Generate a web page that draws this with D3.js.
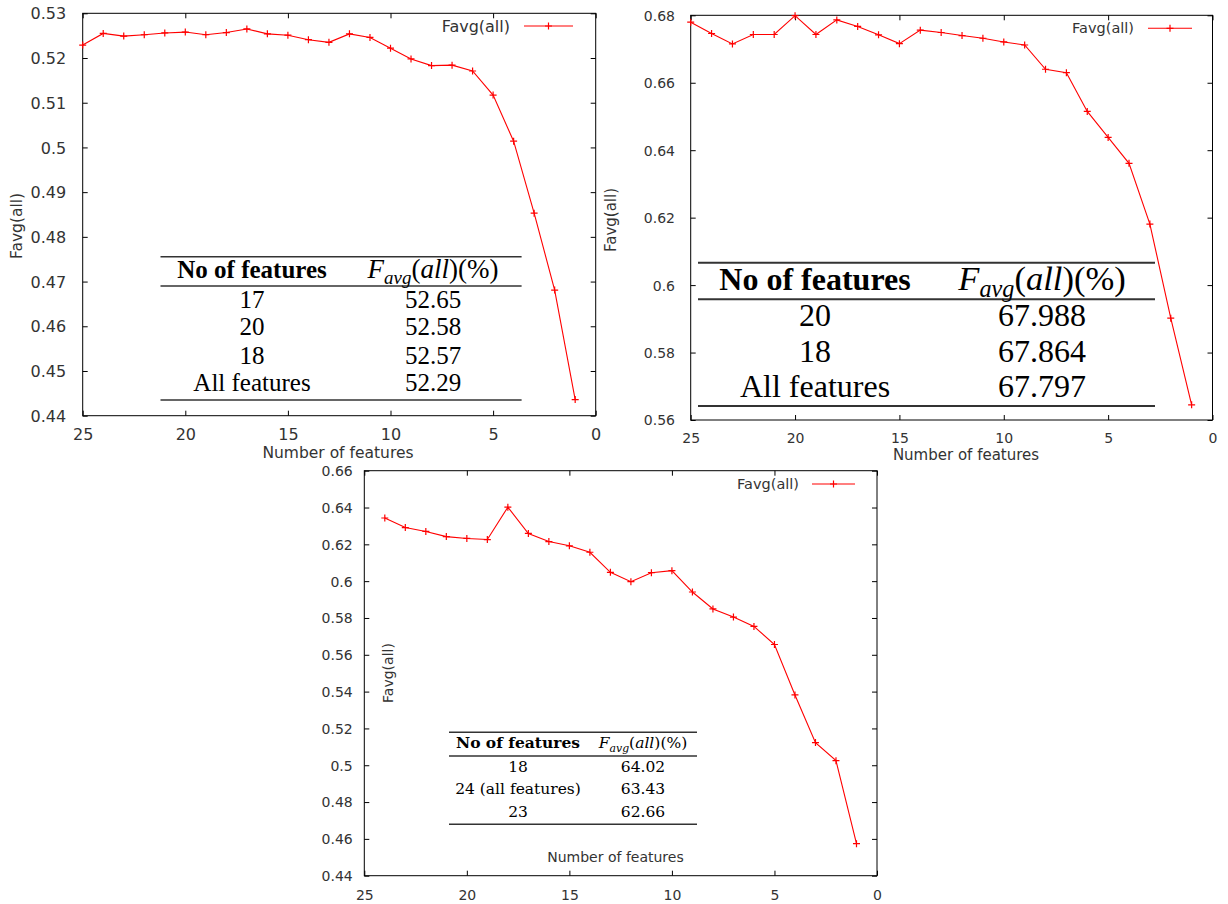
<!DOCTYPE html>
<html>
<head>
<meta charset="utf-8">
<script src="https://cdn.jsdelivr.net/npm/d3@7"></script>
<style>
  html, body { margin: 0; padding: 0; background: #fff; }
  svg { display: block; }
</style>
</head>
<body>
<svg id="chart" width="1228" height="904"></svg>
<script>
// ---------------- data ----------------
const featuresA = [25,24,23,22,21,20,19,18,17,16,15,14,13,12,11,10,9,8,7,6,5,4,3,2,1];
const valuesA = [0.5229,0.5255,0.5249,0.5252,0.5256,0.5258,0.5252,0.5257,0.5265,0.5254,0.5251,0.5241,0.5235,0.5254,0.5246,0.5222,0.5198,0.5183,0.5184,0.5171,0.5117,0.5014,0.4853,0.4681,0.4436];

const featuresB = [25,24,23,22,21,20,19,18,17,16,15,14,13,12,11,10,9,8,7,6,5,4,3,2,1];
const valuesB = [0.67797,0.6746,0.6715,0.6743,0.6743,0.67988,0.6743,0.67864,0.6767,0.6742,0.6716,0.6756,0.6749,0.6740,0.6732,0.6721,0.6712,0.6640,0.6630,0.6515,0.6438,0.6361,0.6181,0.5902,0.5645];

const featuresC = [24,23,22,21,20,19,18,17,16,15,14,13,12,11,10,9,8,7,6,5,4,3,2,1];
const valuesC = [0.6343,0.6291,0.6270,0.6242,0.6232,0.6226,0.6402,0.6259,0.6215,0.6192,0.6157,0.6048,0.5997,0.6046,0.6057,0.5941,0.5849,0.5805,0.5754,0.5656,0.5382,0.5123,0.5025,0.4574];

const xTicks = [25,20,15,10,5,0];
const yTicksA = [0.44,0.45,0.46,0.47,0.48,0.49,0.50,0.51,0.52,0.53];
const yTicksB = [0.56,0.58,0.60,0.62,0.64,0.66,0.68];
const yTicksC = [0.44,0.46,0.48,0.50,0.52,0.54,0.56,0.58,0.60,0.62,0.64,0.66];

const seriesName = "Favg(all)";
const xTitle = "Number of features";
const yTitle = "Favg(all)";

const tableHeadLeft = "No of features";
const tableAFeatures = ["17","20","18","All features"];
const tableAValues = ["52.65","52.58","52.57","52.29"];
const tableBFeatures = ["20","18","All features"];
const tableBValues = ["67.988","67.864","67.797"];
const tableCFeatures = ["18","24 (all features)","23"];
const tableCValues = ["64.02","63.43","62.66"];

// ---------------- drawing ----------------
const svg = d3.select("#chart");
const SANS = "DejaVu Sans, Verdana, sans-serif";
const RED = "#ff0000";
const fmt = d => String(+d.toFixed(2));

function panel(cfg) {
  const g = svg.append("g");
  const x = d3.scaleLinear().domain([25, 0]).range([cfg.left, cfg.right]);
  const y = d3.scaleLinear().domain(cfg.yDomain).range([cfg.bottom, cfg.top]);

  const ax = g.append("g").attr("transform", `translate(0,${cfg.bottom})`)
    .call(d3.axisBottom(x).tickValues(xTicks).tickFormat(d3.format("d")).tickSizeInner(-cfg.tick).tickSizeOuter(0));
  ax.select(".domain").remove();
  ax.selectAll("text").attr("y", cfg.xLabOff).attr("dy", "0.35em")
    .attr("font-family", SANS).attr("font-size", cfg.fs).attr("fill", "#333");
  const axt = g.append("g").attr("transform", `translate(0,${cfg.top})`)
    .call(d3.axisTop(x).tickValues(xTicks).tickFormat("").tickSizeInner(-cfg.tick).tickSizeOuter(0));
  axt.select(".domain").remove();
  const ay = g.append("g").attr("transform", `translate(${cfg.left},0)`)
    .call(d3.axisLeft(y).tickValues(cfg.yTicks).tickFormat(fmt).tickSizeInner(-cfg.tick).tickSizeOuter(0));
  ay.select(".domain").remove();
  ay.selectAll("text").attr("x", -cfg.yLabGap).attr("dy", "0.35em")
    .attr("font-family", SANS).attr("font-size", cfg.fs).attr("fill", "#333");
  const ayr = g.append("g").attr("transform", `translate(${cfg.right},0)`)
    .call(d3.axisRight(y).tickValues(cfg.yTicks).tickFormat("").tickSizeInner(-cfg.tick).tickSizeOuter(0));
  ayr.select(".domain").remove();
  g.selectAll(".tick line").attr("stroke", "#000");

  g.append("rect").attr("x", cfg.left).attr("y", cfg.top)
    .attr("width", cfg.right - cfg.left).attr("height", cfg.bottom - cfg.top)
    .attr("fill", "none").attr("stroke", "#000").attr("stroke-width", 1);

  g.append("text").attr("x", cfg.xTitle[0]).attr("y", cfg.xTitle[1]).attr("dy", "0.35em")
    .attr("text-anchor", "middle").attr("font-family", SANS).attr("font-size", cfg.titleFs)
    .attr("fill", "#333").text(xTitle);
  g.append("text").attr("transform", `translate(${cfg.yTitle[0]},${cfg.yTitle[1]}) rotate(-90)`)
    .attr("dy", "0.35em").attr("text-anchor", "middle").attr("font-family", SANS)
    .attr("font-size", cfg.titleFs).attr("fill", "#333").text(yTitle);

  const pts = cfg.features.map((f, i) => [f, cfg.values[i]]);
  const line = d3.line().x(d => x(d[0])).y(d => y(d[1]));
  g.append("path").datum(pts).attr("d", line).attr("fill", "none")
    .attr("stroke", RED).attr("stroke-width", 1.1);
  const cross = "M-3.5,0H3.5M0,-3.5V3.5";
  g.selectAll(".pt").data(pts).enter().append("path").attr("class", "pt")
    .attr("transform", d => `translate(${x(d[0])},${y(d[1])})`)
    .attr("d", cross).attr("stroke", RED).attr("stroke-width", 1.2).attr("fill", "none");

  const L = cfg.legend;
  g.append("text").attr("x", L.textEnd).attr("y", L.y).attr("dy", "0.35em")
    .attr("text-anchor", "end").attr("font-family", SANS).attr("font-size", cfg.legendFs)
    .attr("fill", "#333").text(seriesName);
  g.append("line").attr("x1", L.x1).attr("x2", L.x2).attr("y1", L.y).attr("y2", L.y)
    .attr("stroke", RED).attr("stroke-width", 1.1);
  g.append("path").attr("transform", `translate(${(L.x1 + L.x2) / 2},${L.y})`)
    .attr("d", cross).attr("stroke", RED).attr("stroke-width", 1.2);
}

function table(cfg) {
  const g = svg.append("g");
  cfg.lines.forEach(ly => {
    g.append("line").attr("x1", cfg.x1).attr("x2", cfg.x2).attr("y1", ly).attr("y2", ly)
      .attr("stroke", "#333").attr("stroke-width", cfg.lw);
  });
  const fs = cfg.fs;
  g.append("text").attr("x", cfg.cols[0]).attr("y", cfg.headY + 0.33 * fs)
    .attr("text-anchor", "middle").attr("font-family", cfg.font).attr("font-weight", "bold")
    .attr("font-size", fs).attr("fill", "#000").text(tableHeadLeft);
  const mf = fs * cfg.mathScale;
  const ht = g.append("text").attr("x", cfg.cols[1]).attr("y", cfg.headY + 0.33 * fs)
    .attr("text-anchor", "middle").attr("font-family", cfg.font)
    .attr("font-size", mf).attr("fill", "#000");
  ht.append("tspan").attr("font-style", "italic").text("F");
  ht.append("tspan").attr("font-style", "italic").attr("font-size", mf * 0.7)
    .attr("dy", mf * 0.22).text("avg");
  ht.append("tspan").attr("dy", -mf * 0.22).text("(");
  ht.append("tspan").attr("font-style", "italic").text("all");
  ht.append("tspan").text(")(%)");
  cfg.features.forEach((f, i) => {
    g.append("text").attr("x", cfg.cols[0]).attr("y", cfg.rows[i] + 0.34 * fs)
      .attr("text-anchor", "middle").attr("font-family", cfg.font)
      .attr("font-size", fs).attr("fill", "#000").text(f);
    g.append("text").attr("x", cfg.cols[1]).attr("y", cfg.rows[i] + 0.34 * fs)
      .attr("text-anchor", "middle").attr("font-family", cfg.font)
      .attr("font-size", fs).attr("fill", "#000").text(cfg.values[i]);
  });
}

// Panel A (top-left)
panel({
  left: 82.7, right: 595.7, top: 13.3, bottom: 415.7,
  yDomain: [0.44, 0.53], yTicks: yTicksA, features: featuresA, values: valuesA,
  fs: 16, titleFs: 15.5, legendFs: 16, tick: 5, xLabOff: 19, yLabGap: 16.5,
  xTitle: [338, 453], yTitle: [16.5, 226],
  legend: { textEnd: 510, y: 26, x1: 524, x2: 573 }
});
table({
  x1: 160.5, x2: 521.6, lines: [256.7, 286, 400], lw: 1.6,
  cols: [252, 433], headY: 270, rows: [299.3, 326.7, 355.3, 382.7],
  fs: 25, mathScale: 1.08, font: "Liberation Serif, Times New Roman, serif",
  features: tableAFeatures, values: tableAValues
});

// Panel B (top-right)
panel({
  left: 690.7, right: 1212.5, top: 15.3, bottom: 420,
  yDomain: [0.56, 0.68], yTicks: yTicksB, features: featuresB, values: valuesB,
  fs: 14, titleFs: 15, legendFs: 14.5, tick: 5, xLabOff: 18.5, yLabGap: 15.7,
  xTitle: [966, 455], yTitle: [611, 220],
  legend: { textEnd: 1134, y: 28.3, x1: 1148, x2: 1192 }
});
table({
  x1: 698, x2: 1155, lines: [262.7, 299.3, 406], lw: 2,
  cols: [815, 1042], headY: 279, rows: [315, 351, 385.7],
  fs: 32, mathScale: 1.08, font: "Liberation Serif, Times New Roman, serif",
  features: tableBFeatures, values: tableBValues
});

// Panel C (bottom)
panel({
  left: 364.3, right: 877, top: 470.7, bottom: 875.7,
  yDomain: [0.44, 0.66], yTicks: yTicksC, features: featuresC, values: valuesC,
  fs: 14, titleFs: 14, legendFs: 14.5, tick: 5, xLabOff: 19.3, yLabGap: 11.6,
  xTitle: [615.5, 856.7], yTitle: [388, 673],
  legend: { textEnd: 799, y: 484, x1: 812, x2: 855 }
});
table({
  x1: 449, x2: 697, lines: [732.3, 756, 824.3], lw: 1.4,
  cols: [518, 643], headY: 743, rows: [767, 789, 812],
  fs: 15.5, mathScale: 1.0, font: "DejaVu Serif, serif",
  features: tableCFeatures, values: tableCValues
});
</script>
</body>
</html>
